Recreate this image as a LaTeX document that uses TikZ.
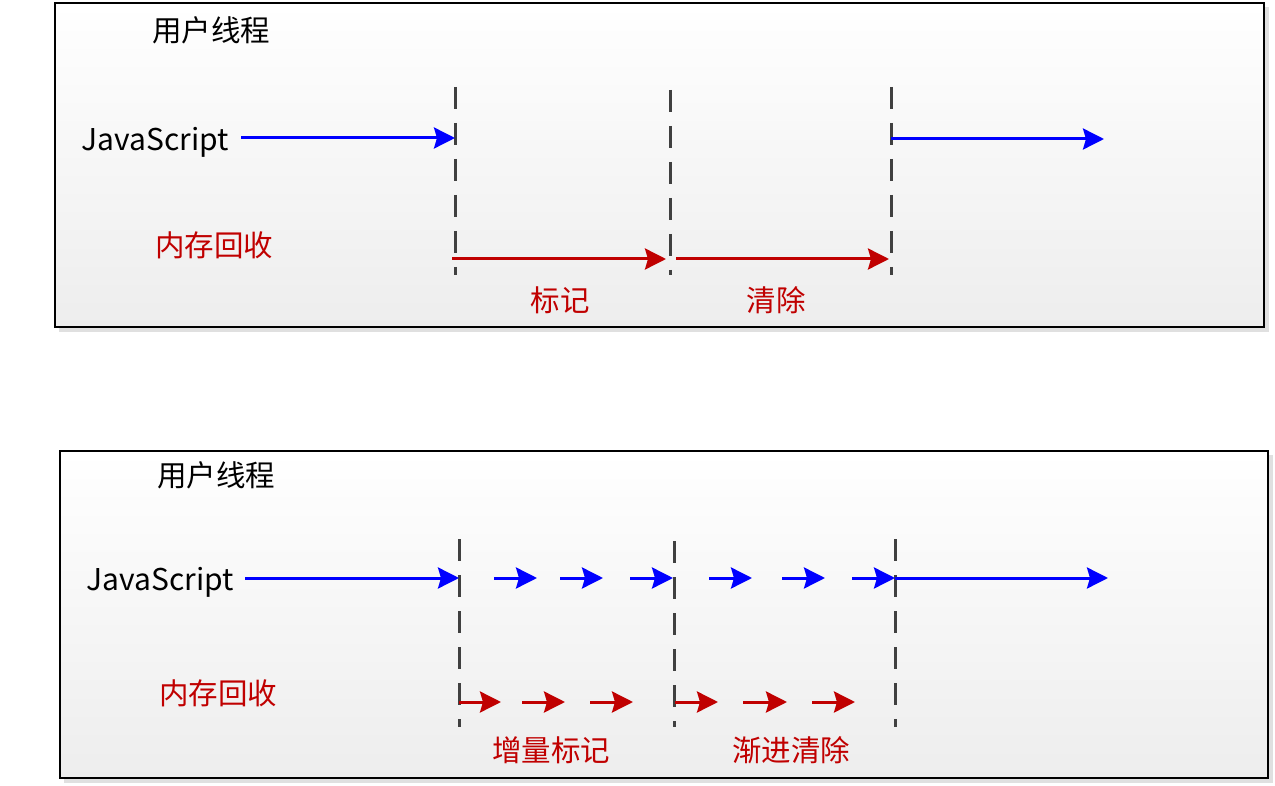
\documentclass[tikz,border=0pt]{standalone}
\usepackage{fontspec}
\setmainfont{Noto Sans CJK SC}
\usetikzlibrary{arrows.meta}
\definecolor{jsblue}{RGB}{0,0,255}
\definecolor{gcred}{RGB}{192,0,0}
\definecolor{dashgray}{RGB}{64,64,64}
\begin{document}
\begin{tikzpicture}[x=1pt,y=-1pt,
  panel/.style={draw=black, line width=2.5pt, top color=white, bottom color=black!7},
  shadowbox/.style={fill=black!12, draw=none},
  cjk/.style={font=\fontsize{29.5}{34}\selectfont, inner sep=0pt},
  jstxt/.style={font=\fontsize{30}{34}\selectfont, inner sep=0pt},
  redtxt/.style={cjk, text=gcred},
  tip/.style={-{Stealth[length=21pt,width=21pt,inset=3pt]}},
  jsarrow/.style={draw=jsblue, line width=3pt, tip},
  gcarrow/.style={draw=gcred, line width=3pt, tip},
  phase/.style={draw=dashgray, line width=3pt, dash pattern=on 22pt off 14pt},
]
\useasboundingbox (0,0) rectangle (1275,786);

% ===== top panel =====
\fill[shadowbox] (59,7) rectangle (1269,332);
\path[panel] (55,3) rectangle (1264,327);
\node[cjk] (ut1) at (211,30) {用户线程};
\node[jstxt] (js1) at (155,142) {JavaScript};
\node[redtxt] (gc1) at (214,245) {内存回收};
\node[redtxt] (mk1) at (560,300) {标记};
\node[redtxt] (sw1) at (776,300) {清除};

\coordinate (a1d) at (455,87);  \coordinate (a1e) at (455,275);
\coordinate (a2d) at (670,90);  \coordinate (a2e) at (670,275);
\coordinate (a3d) at (891,87);  \coordinate (a3e) at (891,275);
\draw[phase] (a1d) -- (a1e);
\draw[phase] (a2d) -- (a2e);
\draw[phase] (a3d) -- (a3e);

\coordinate (j1s) at (241,138); \coordinate (j1e) at (455,138);
\coordinate (j2s) at (891,139); \coordinate (j2e) at (1104,139);
\draw[jsarrow] (j1s) -- (j1e);
\draw[jsarrow] (j2s) -- (j2e);

\coordinate (r1s) at (452,259); \coordinate (r1e) at (666,259);
\coordinate (r2s) at (676,259); \coordinate (r2e) at (889,259);
\draw[gcarrow] (r1s) -- (r1e);
\draw[gcarrow] (r2s) -- (r2e);

% ===== bottom panel =====
\fill[shadowbox] (64,455) rectangle (1273,783);
\path[panel] (60,451) rectangle (1268,778);
\node[cjk] (ut2) at (216,475) {用户线程};
\node[jstxt] (js2) at (160,582) {JavaScript};
\node[redtxt] (gc2) at (218,693) {内存回收};
\node[redtxt] (mk2) at (551,750) {增量标记};
\node[redtxt] (sw2) at (791,750) {渐进清除};

\coordinate (b1d) at (459,539); \coordinate (b1e) at (459,727);
\coordinate (b2d) at (674,541); \coordinate (b2e) at (674,727);
\coordinate (b3d) at (895,539); \coordinate (b3e) at (895,727);
\draw[phase] (b1d) -- (b1e);
\draw[phase] (b2d) -- (b2e);
\draw[phase] (b3d) -- (b3e);

\coordinate (k0s) at (245,578); \coordinate (k0e) at (459,578);
\draw[jsarrow] (k0s) -- (k0e);
\foreach \s/\e [count=\i] in {494/537, 560/603, 630/673, 709/752, 782/825, 852/895}{
  \coordinate (ks\i) at (\s,578); \coordinate (ke\i) at (\e,578);
  \draw[jsarrow] (ks\i) -- (ke\i);
}
\coordinate (k7s) at (895,578); \coordinate (k7e) at (1108,578);
\draw[jsarrow] (k7s) -- (k7e);

\foreach \s/\e [count=\i] in {459/501, 522/565, 590/633, 675/718, 743/787, 812/855}{
  \coordinate (gs\i) at (\s,702); \coordinate (ge\i) at (\e,702);
  \draw[gcarrow] (gs\i) -- (ge\i);
}
\end{tikzpicture}
\end{document}
